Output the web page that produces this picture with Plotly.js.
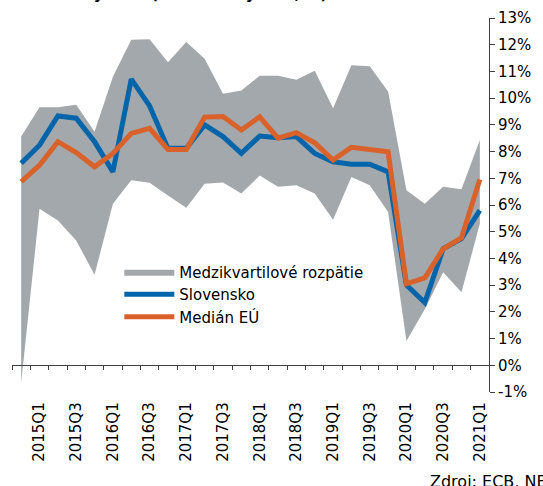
<!DOCTYPE html>
<html>
<head>
<meta charset="utf-8">
<script src="https://cdn.plot.ly/plotly-3.0.1.min.js"></script>
<style>html,body{margin:0;padding:0;background:#fff;}#chart{width:543px;height:486px;}</style>
</head>
<body>
<div id="chart"></div>
<script>
const quarters = ["2014Q4","2015Q1","2015Q2","2015Q3","2015Q4","2016Q1","2016Q2","2016Q3","2016Q4",
  "2017Q1","2017Q2","2017Q3","2017Q4","2018Q1","2018Q2","2018Q3","2018Q4",
  "2019Q1","2019Q2","2019Q3","2019Q4","2020Q1","2020Q2","2020Q3","2020Q4","2021Q1"];
const upperQuartile = [8.56, 9.66, 9.66, 9.75, 8.74, 10.8, 12.19, 12.2, 11.34, 12.1, 11.47, 10.16, 10.29,
  10.84, 10.84, 10.69, 11.03, 9.62, 11.23, 11.19, 10.25, 6.55, 6.05, 6.68, 6.59, 8.43];
const lowerQuartile = [-0.65, 5.86, 5.42, 4.67, 3.39, 6.05, 6.93, 6.83, 6.36, 5.9, 6.8, 6.84, 6.43,
  7.1, 6.68, 6.74, 6.43, 5.45, 7.05, 6.74, 5.74, 0.91, 2.1, 3.48, 2.73, 5.3];
const slovensko = [7.56, 8.24, 9.33, 9.25, 8.37, 7.24, 10.71, 9.71, 8.12, 8.12, 9.0, 8.56, 7.93,
  8.58, 8.52, 8.56, 7.93, 7.62, 7.53, 7.53, 7.24, 3.0, 2.35, 4.36, 4.74, 5.8];
const medianEU = [6.87, 7.49, 8.37, 7.96, 7.43, 7.93, 8.68, 8.87, 8.08, 8.08, 9.29, 9.31, 8.81,
  9.3, 8.5, 8.71, 8.33, 7.68, 8.16, 8.08, 7.99, 3.05, 3.27, 4.36, 4.77, 6.95];
const yTickVals = [-1,0,1,2,3,4,5,6,7,8,9,10,11,12,13];
const seriesNames = ["Medzikvartilové rozpätie", "Slovensko", "Medián EÚ"];

const FONT = "DejaVu Sans, Verdana, sans-serif";
const axisColor = "#404040";

const traces = [
  {x: quarters, y: lowerQuartile, type: "scatter", mode: "lines", line: {width: 0, color: "#A2A8AB"},
   showlegend: false, hoverinfo: "skip"},
  {x: quarters, y: upperQuartile, type: "scatter", mode: "lines", line: {width: 0, color: "#A2A8AB"},
   fill: "tonexty", fillcolor: "#A2A8AB", name: seriesNames[0]},
  {x: quarters, y: slovensko, type: "scatter", mode: "lines", line: {width: 5, color: "#0065AA"},
   name: seriesNames[1]},
  {x: quarters, y: medianEU, type: "scatter", mode: "lines", line: {width: 5, color: "#D9622B"},
   name: seriesNames[2]}
];

const layout = {
  width: 543, height: 486,
  margin: {l: 12, r: 54, t: 18, b: 94, pad: 0},
  paper_bgcolor: "#fff", plot_bgcolor: "#fff",
  font: {family: FONT, size: 15, color: "#000"},
  showlegend: true,
  legend: {x: 0.225, y: 0.365, xanchor: "left", yanchor: "top", bgcolor: "rgba(0,0,0,0)",
    traceorder: "normal",
    font: {family: FONT, size: 15, color: "#000"}, itemwidth: 50, tracegroupgap: 0},
  xaxis: {
    type: "category", range: [-0.5, quarters.length - 0.5],
    tickmode: "array", tickvals: quarters,
    ticktext: quarters.map((q, i) => i % 2 === 1 ? q : ""),
    tickson: "boundaries", ticks: "outside", ticklen: 4, tickcolor: axisColor, tickwidth: 1,
    tickangle: -90, ticklabelstandoff: 30,
    showline: true, linecolor: axisColor, linewidth: 1,
    showgrid: false, zeroline: false,
    anchor: "free", position: 1 / 14,
    tickfont: {family: FONT, size: 15, color: "#000"}
  },
  yaxis: {
    range: [-1, 13], side: "right", tickmode: "array", tickvals: yTickVals,
    ticktext: yTickVals.map(v => v + "%"),
    ticks: "outside", ticklen: 5, tickcolor: axisColor, tickwidth: 1,
    showline: true, linecolor: axisColor, linewidth: 1,
    showgrid: false, zeroline: false,
    tickfont: {family: FONT, size: 15, color: "#000"}
  },
  annotations: [
    {text: "<b>Graf 2 Mzdy v EÚ (medziročný rast, %)</b>", xref: "paper", yref: "paper",
     x: -0.025, y: 1.036, xanchor: "left", yanchor: "bottom", showarrow: false,
     font: {family: FONT, size: 15, color: "#000"}},
    {text: "Zdroj: ECB, NBS", xref: "paper", yref: "paper", x: 0.873, y: -0.239,
     xanchor: "left", yanchor: "middle", showarrow: false,
     font: {family: FONT, size: 16, color: "#000"}}
  ]
};

Plotly.newPlot("chart", traces, layout, {staticPlot: true, displayModeBar: false});
</script>
</body>
</html>
